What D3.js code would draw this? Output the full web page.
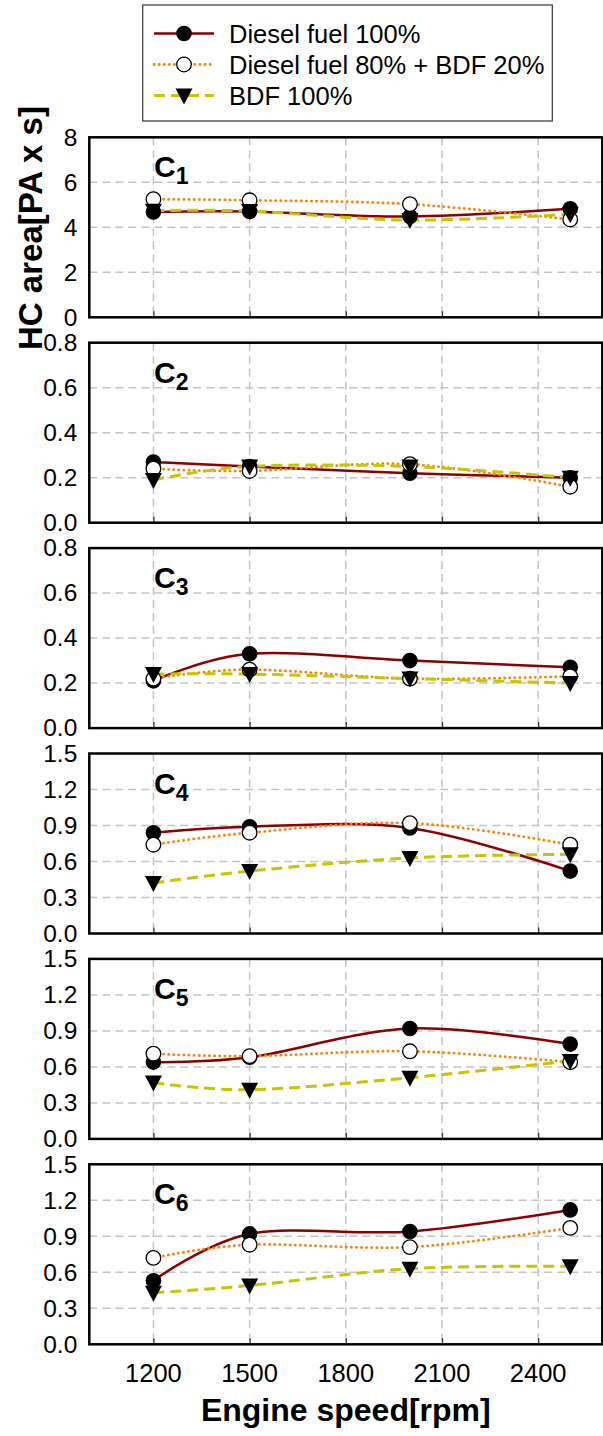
<!DOCTYPE html>
<meta charset="utf-8">
<title>HC area</title>
<style>
body { margin: 0; background: #fff; }
svg { font-family: Arial, "Liberation Sans", sans-serif; }
.grid line { stroke: #c4c4c4; stroke-width: 1.5; stroke-dasharray: 8,5; }
</style>
<body>
<script src="https://cdn.jsdelivr.net/npm/d3@7"></script>
<script>

var width = 603, height = 1436;

// data
var speeds = [1200, 1500, 2000, 2500];
var xTicks = [1200, 1500, 1800, 2100, 2400];
var panelNames = ["1", "2", "3", "4", "5", "6"];
var yMax = [8, 0.8, 0.8, 1.5, 1.5, 1.5];
var yTicks = [
  [0, 2, 4, 6, 8],
  [0, 0.2, 0.4, 0.6, 0.8],
  [0, 0.2, 0.4, 0.6, 0.8],
  [0, 0.3, 0.6, 0.9, 1.2, 1.5],
  [0, 0.3, 0.6, 0.9, 1.2, 1.5],
  [0, 0.3, 0.6, 0.9, 1.2, 1.5]
];
var yFormat = ["d", ".1f", ".1f", ".1f", ".1f", ".1f"];

var diesel100 = [
  [4.68, 4.70, 4.48, 4.82],
  [0.27, 0.25, 0.22, 0.20],
  [0.21, 0.33, 0.30, 0.27],
  [0.84, 0.89, 0.88, 0.52],
  [0.64, 0.68, 0.92, 0.79],
  [0.53, 0.92, 0.94, 1.12]
];
var blend20 = [
  [5.25, 5.20, 5.03, 4.35],
  [0.24, 0.23, 0.26, 0.16],
  [0.22, 0.26, 0.22, 0.23],
  [0.74, 0.84, 0.92, 0.74],
  [0.71, 0.69, 0.73, 0.64],
  [0.72, 0.83, 0.81, 0.97]
];
var bdf100 = [
  [4.74, 4.72, 4.32, 4.58],
  [0.19, 0.25, 0.25, 0.20],
  [0.24, 0.24, 0.22, 0.20],
  [0.42, 0.52, 0.63, 0.66],
  [0.47, 0.41, 0.51, 0.65],
  [0.43, 0.49, 0.63, 0.65]
];

var series = [
  {name: "Diesel fuel 100%", values: diesel100, color: "#8b0000", dash: null, width: 2.5, marker: "dot"},
  {name: "Diesel fuel 80% + BDF 20%", values: blend20, color: "#ff8000", dash: "0.1,5", width: 2.8, marker: "open"},
  {name: "BDF 100%", values: bdf100, color: "#c8c400", dash: "11,6", width: 3, marker: "tri"}
];

var left = 89.3, right = 602.3;
var panelTop = 137.3, panelH = 180, panelStep = 205.4;

var svg = d3.select("body").append("svg")
    .attr("width", width)
    .attr("height", height);

var x = d3.scaleLinear()
    .domain([1000, 2600])
    .range([left, right]);

var line = d3.line()
    .curve(d3.curveCardinal.tension(0));

function drawMarker(g, type, cx, cy) {
  if (type === "dot") {
    g.append("circle").attr("cx", cx).attr("cy", cy).attr("r", 7.8)
      .attr("fill", "#000");
  } else if (type === "open") {
    g.append("circle").attr("cx", cx).attr("cy", cy).attr("r", 7.3)
      .attr("fill", "#fff").attr("stroke", "#000").attr("stroke-width", 1.3);
  } else {
    g.append("path")
      .attr("d", "M" + (cx - 8.5) + "," + (cy - 7) + "L" + (cx + 8.5) + "," + (cy - 7) + "L" + cx + "," + (cy + 9) + "Z")
      .attr("fill", "#000");
  }
}

panelNames.forEach(function(name, i) {
  var top = panelTop + i * panelStep;
  var y = d3.scaleLinear()
      .domain([0, yMax[i]])
      .range([top + panelH, top]);

  var g = svg.append("g");

  // grid
  var grid = g.append("g").attr("class", "grid");
  grid.selectAll("line.h")
      .data(yTicks[i].slice(1, -1))
    .enter().append("line")
      .attr("x1", left).attr("x2", right)
      .attr("y1", function(d) { return y(d); })
      .attr("y2", function(d) { return y(d); });
  grid.selectAll("line.v")
      .data(xTicks)
    .enter().append("line")
      .attr("x1", function(d) { return x(d); })
      .attr("x2", function(d) { return x(d); })
      .attr("y1", top).attr("y2", top + panelH);

  // x ticks, inward
  g.append("g")
      .attr("transform", "translate(0," + (top + panelH) + ")")
      .call(d3.axisTop(x).tickValues(xTicks).tickSize(6).tickFormat(""))
      .call(function(a) {
        a.select(".domain").remove();
        a.selectAll("line").attr("stroke", "#333").attr("stroke-width", 1.3);
      });

  // y labels
  g.append("g")
      .attr("transform", "translate(" + left + ",0)")
      .call(d3.axisLeft(y).tickValues(yTicks[i]).tickSize(0).tickPadding(12)
        .tickFormat(d3.format(yFormat[i])))
      .call(function(a) {
        a.select(".domain").remove();
        a.selectAll("text").attr("font-size", 24.5).attr("fill", "#000")
          .attr("font-family", "Arial, 'Liberation Sans', sans-serif");
      });

  // lines
  series.forEach(function(s) {
    var pts = speeds.map(function(v, j) { return [x(v), y(s.values[i][j])]; });
    g.append("path")
        .attr("d", line(pts))
        .attr("fill", "none")
        .attr("stroke", s.color)
        .attr("stroke-width", s.width)
        .attr("stroke-linecap", s.marker === "open" ? "round" : "butt")
        .attr("stroke-dasharray", s.dash);
  });

  // markers
  series.forEach(function(s) {
    speeds.forEach(function(v, j) {
      drawMarker(g, s.marker, x(v), y(s.values[i][j]));
    });
  });

  // frame
  g.append("rect")
      .attr("x", left).attr("y", top)
      .attr("width", right - left).attr("height", panelH)
      .attr("fill", "none")
      .attr("stroke", "#000")
      .attr("stroke-width", 2.5);

  // panel label
  var lab = g.append("text")
      .attr("x", 154).attr("y", top + 40)
      .attr("font-size", 30)
      .attr("font-weight", "bold");
  lab.append("tspan").text("C");
  lab.append("tspan").attr("font-size", 23).attr("dy", 7).text(name);
});

// x tick labels
svg.append("g")
    .selectAll("text")
    .data(xTicks)
  .enter().append("text")
    .attr("x", function(d) { return x(d); })
    .attr("y", 1382)
    .attr("text-anchor", "middle")
    .attr("font-size", 25.5)
    .text(function(d) { return d; });

// axis titles
svg.append("text")
    .attr("x", (left + right) / 2)
    .attr("y", 1421)
    .attr("text-anchor", "middle")
    .attr("font-size", 32)
    .attr("font-weight", "bold")
    .text("Engine speed[rpm]");

svg.append("text")
    .attr("transform", "translate(42,350) rotate(-90)")
    .attr("font-size", 33)
    .attr("font-weight", "bold")
    .text("HC area[PA x s]");

// legend
var legend = svg.append("g");
legend.append("rect")
    .attr("x", 142.7).attr("y", 5)
    .attr("width", 409.6).attr("height", 116)
    .attr("fill", "#fff")
    .attr("stroke", "#333")
    .attr("stroke-width", 1.2);

series.forEach(function(s, k) {
  var cy = 33.5 + k * 31;
  legend.append("line")
      .attr("x1", 154).attr("x2", 214)
      .attr("y1", cy).attr("y2", cy)
      .attr("stroke", s.color)
      .attr("stroke-width", s.width)
      .attr("stroke-linecap", s.marker === "open" ? "round" : "butt")
      .attr("stroke-dasharray", s.dash);
  drawMarker(legend, s.marker, 184, cy);
  legend.append("text")
      .attr("x", 229).attr("y", cy + 9)
      .attr("font-size", 25.5)
      .text(s.name);
});

</script>
